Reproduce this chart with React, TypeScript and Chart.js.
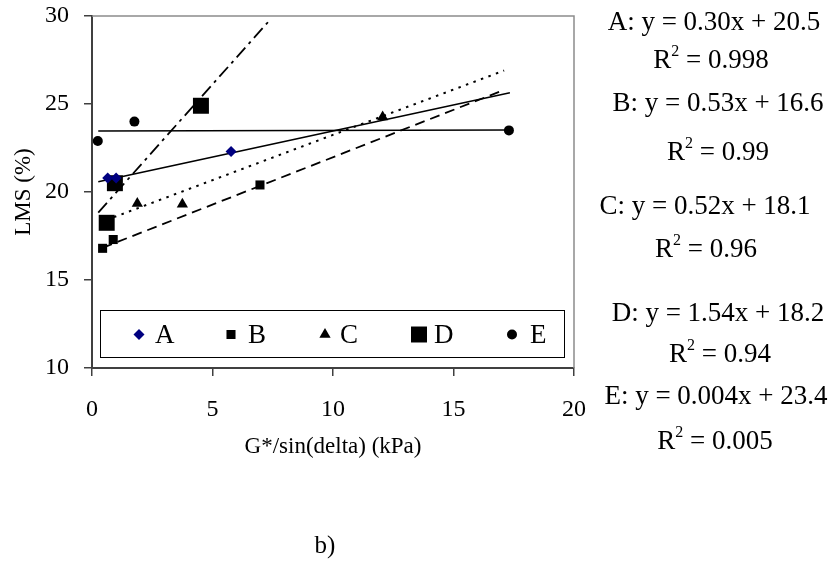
import React, { useEffect, useRef } from "react";
import { Chart, registerables } from "chart.js";

Chart.register(...registerables);

// ---------------- data ----------------
const seriesNames = ["A", "B", "C", "D", "E"];

const xA = [0.65, 1.0, 5.77];
const yA = [20.8, 20.8, 22.3];
const xB = [0.44, 0.88, 6.97];
const yB = [16.8, 17.3, 20.4];
const xC = [1.88, 3.75, 12.06];
const yC = [19.35, 19.3, 24.26];
const xD = [0.61, 0.95, 4.52];
const yD = [18.25, 20.5, 24.9];
const xE = [0.24, 1.76, 17.3];
const yE = [22.9, 24.0, 23.5];

// trendline end points (start, end)
const trendAx = [0.26, 17.34];
const trendAy = [20.58, 25.64];
const trendBx = [0.44, 17.1];
const trendBy = [16.83, 25.8];
const trendCx = [0.6, 17.1];
const trendCy = [18.41, 26.9];
const trendDx = [0.26, 7.4];
const trendDy = [18.83, 29.8];
const trendEx = [0.26, 17.3];
const trendEy = [23.47, 23.52];

const xTicks = [0, 5, 10, 15, 20];
const yTicks = [10, 15, 20, 25, 30];

const equationLabels = [
  "A: y = 0.30x + 20.5",
  "B: y = 0.53x + 16.6",
  "C: y = 0.52x + 18.1",
  "D: y = 1.54x + 18.2",
  "E: y = 0.004x + 23.4",
];
const r2Labels = ["0.998", "0.99", "0.96", "0.94", "0.005"];

const xTitle = "G*/sin(delta) (kPa)";
const yTitle = "LMS (%)";
const panelLabel = "b)";

// ---------------- styles / layout ----------------
const FONT = "'Liberation Serif', 'Times New Roman', serif";
const W = 830;
const H = 575;
const AREA = { left: 92, right: 574, top: 16, bottom: 368 };

const eqLayout = [
  { cx: 714, cy: 21, rcx: 711, rcy: 59 },
  { cx: 718, cy: 102, rcx: 718, rcy: 151 },
  { cx: 705, cy: 205, rcx: 706, rcy: 248 },
  { cx: 718, cy: 312, rcx: 720, rcy: 353 },
  { cx: 716, cy: 395, rcx: 715, rcy: 440 },
];

const legendBox = { left: 100, top: 310, right: 564, bottom: 357 };
const legendMarkerX = [139, 231, 325, 419, 512];
const legendTextX = [155, 248, 340, 434, 530];

const pointStyles = [
  { color: "#000080", style: "rectRot", radius: 5.5 },
  { color: "#000000", style: "rect", radius: 6.4 },
  { color: "#000000", style: "triangle", radius: 6.5 },
  { color: "#000000", style: "rect", radius: 11.3 },
  { color: "#000000", style: "circle", radius: 5 },
];
const trendStyles = [
  { dash: [] as number[], width: 1.6 },
  { dash: [10, 6], width: 1.8 },
  { dash: [2.5, 5.5], width: 2 },
  { dash: [13, 5, 3, 5], width: 1.8 },
  { dash: [] as number[], width: 1.6 },
];

const zip = (xs: number[], ys: number[]) => xs.map((x, i) => ({ x, y: ys[i] }));

function drawMarker(ctx: CanvasRenderingContext2D, kind: number, x: number, y: number) {
  const s = pointStyles[kind];
  ctx.save();
  ctx.fillStyle = s.color;
  ctx.beginPath();
  if (s.style === "rectRot") {
    const r = s.radius;
    ctx.moveTo(x, y - r);
    ctx.lineTo(x + r, y);
    ctx.lineTo(x, y + r);
    ctx.lineTo(x - r, y);
    ctx.closePath();
  } else if (s.style === "rect") {
    const h = s.radius * Math.SQRT1_2;
    ctx.rect(x - h, y - h, 2 * h, 2 * h);
  } else if (s.style === "triangle") {
    const r = s.radius;
    ctx.moveTo(x, y - r);
    ctx.lineTo(x + r * Math.sin(Math.PI / 3), y + r / 2);
    ctx.lineTo(x - r * Math.sin(Math.PI / 3), y + r / 2);
    ctx.closePath();
  } else {
    ctx.arc(x, y, s.radius, 0, Math.PI * 2);
  }
  ctx.fill();
  ctx.restore();
}

const framePlugin = {
  id: "frameAndLegend",
  afterDraw(chart: any) {
    const { ctx, chartArea } = chart;
    ctx.save();
    // grey top/right plot-area border
    ctx.strokeStyle = "#8c8c8c";
    ctx.lineWidth = 1.5;
    ctx.beginPath();
    ctx.moveTo(chartArea.left, chartArea.top);
    ctx.lineTo(chartArea.right, chartArea.top);
    ctx.lineTo(chartArea.right, chartArea.bottom);
    ctx.stroke();

    // legend
    ctx.fillStyle = "#ffffff";
    ctx.fillRect(legendBox.left, legendBox.top, legendBox.right - legendBox.left, legendBox.bottom - legendBox.top);
    ctx.strokeStyle = "#000000";
    ctx.lineWidth = 1;
    ctx.strokeRect(legendBox.left + 0.5, legendBox.top + 0.5, legendBox.right - legendBox.left, legendBox.bottom - legendBox.top);
    const cy = (legendBox.top + legendBox.bottom) / 2 + 1;
    ctx.font = `27px ${FONT}`;
    ctx.textBaseline = "middle";
    ctx.textAlign = "left";
    seriesNames.forEach((name, i) => {
      drawMarker(ctx, i, legendMarkerX[i], cy);
      ctx.fillStyle = "#000000";
      ctx.fillText(name, legendTextX[i], cy + 1);
    });
    ctx.restore();
  },
};

export default function App() {
  const ref = useRef<HTMLCanvasElement | null>(null);

  useEffect(() => {
    if (!ref.current) return;
    const xs = [xA, xB, xC, xD, xE];
    const ys = [yA, yB, yC, yD, yE];
    const tx = [trendAx, trendBx, trendCx, trendDx, trendEx];
    const ty = [trendAy, trendBy, trendCy, trendDy, trendEy];

    const trendSets = seriesNames.map((n, i) => ({
      label: `${n} trend`,
      data: zip(tx[i], ty[i]),
      showLine: true,
      borderColor: "#000000",
      borderWidth: trendStyles[i].width,
      borderDash: trendStyles[i].dash,
      pointRadius: 0,
      pointHoverRadius: 0,
      fill: false,
      order: 2,
    }));
    const pointSets = seriesNames.map((n, i) => ({
      label: n,
      data: zip(xs[i], ys[i]),
      showLine: false,
      pointStyle: pointStyles[i].style,
      pointRadius: pointStyles[i].radius,
      pointHoverRadius: pointStyles[i].radius,
      backgroundColor: pointStyles[i].color,
      borderColor: pointStyles[i].color,
      borderWidth: 0,
      order: 1,
    }));

    const chart = new Chart(ref.current, {
      type: "scatter",
      data: { datasets: [...trendSets, ...pointSets] as any },
      options: {
        responsive: false,
        animation: false,
        layout: { padding: { left: 0, top: AREA.top, right: W - AREA.right, bottom: 0 } },
        plugins: { legend: { display: false }, tooltip: { enabled: false } },
        scales: {
          x: {
            type: "linear",
            min: xTicks[0],
            max: xTicks[xTicks.length - 1],
            afterBuildTicks: (s: any) => {
              s.ticks = xTicks.map((v) => ({ value: v }));
            },
            ticks: { color: "#000", padding: 19, font: { family: FONT, size: 24 } },
            grid: { drawOnChartArea: false, drawTicks: true, tickLength: 8, color: "#404040", lineWidth: 1.5 },
            border: { display: true, color: "#404040", width: 2 },
            title: {
              display: true,
              text: xTitle,
              color: "#000",
              font: { family: FONT, size: 23 },
              padding: { top: 4, bottom: H - 447 - 13.8 },
            },
            afterFit: (s: any) => {
              s.height = H - AREA.bottom;
              s.paddingLeft = 0;
              s.paddingRight = 0;
              s.paddingTop = 0;
              s.paddingBottom = 0;
            },
          },
          y: {
            type: "linear",
            min: yTicks[0],
            max: yTicks[yTicks.length - 1],
            afterBuildTicks: (s: any) => {
              s.ticks = yTicks.map((v) => ({ value: v }));
            },
            ticks: { color: "#000", padding: 15, font: { family: FONT, size: 24 } },
            grid: { drawOnChartArea: false, drawTicks: true, tickLength: 8, color: "#404040", lineWidth: 1.5 },
            border: { display: true, color: "#404040", width: 2 },
            title: {
              display: true,
              text: yTitle,
              color: "#000",
              font: { family: FONT, size: 23 },
              padding: { top: 10, bottom: 4 },
            },
            afterFit: (s: any) => {
              s.width = AREA.left;
              s.paddingLeft = 0;
              s.paddingRight = 0;
              s.paddingTop = 0;
              s.paddingBottom = 0;
            },
          },
        },
      },
      plugins: [framePlugin],
    });
    return () => chart.destroy();
  }, []);

  const textStyle: React.CSSProperties = {
    position: "absolute",
    width: 300,
    textAlign: "center",
    fontFamily: FONT,
    fontSize: 27,
    lineHeight: "30px",
    color: "#000",
    whiteSpace: "nowrap",
  };

  return (
    <div style={{ position: "fixed", left: 0, top: 0, width: W, height: H, background: "#fff", overflow: "hidden" }}>
      <canvas ref={ref} width={W} height={H} style={{ position: "absolute", left: 0, top: 0, width: W, height: H }} />
      {equationLabels.map((eq, i) => (
        <React.Fragment key={i}>
          <div style={{ ...textStyle, left: eqLayout[i].cx - 150, top: eqLayout[i].cy - 15 }}>{eq}</div>
          <div style={{ ...textStyle, left: eqLayout[i].rcx - 150, top: eqLayout[i].rcy - 15 }}>
            R<span style={{ fontSize: 16, position: "relative", top: -12 }}>2</span> = {r2Labels[i]}
          </div>
        </React.Fragment>
      ))}
      <div style={{ ...textStyle, fontSize: 25, left: 325 - 150, top: 545 - 15 }}>{panelLabel}</div>
    </div>
  );
}
